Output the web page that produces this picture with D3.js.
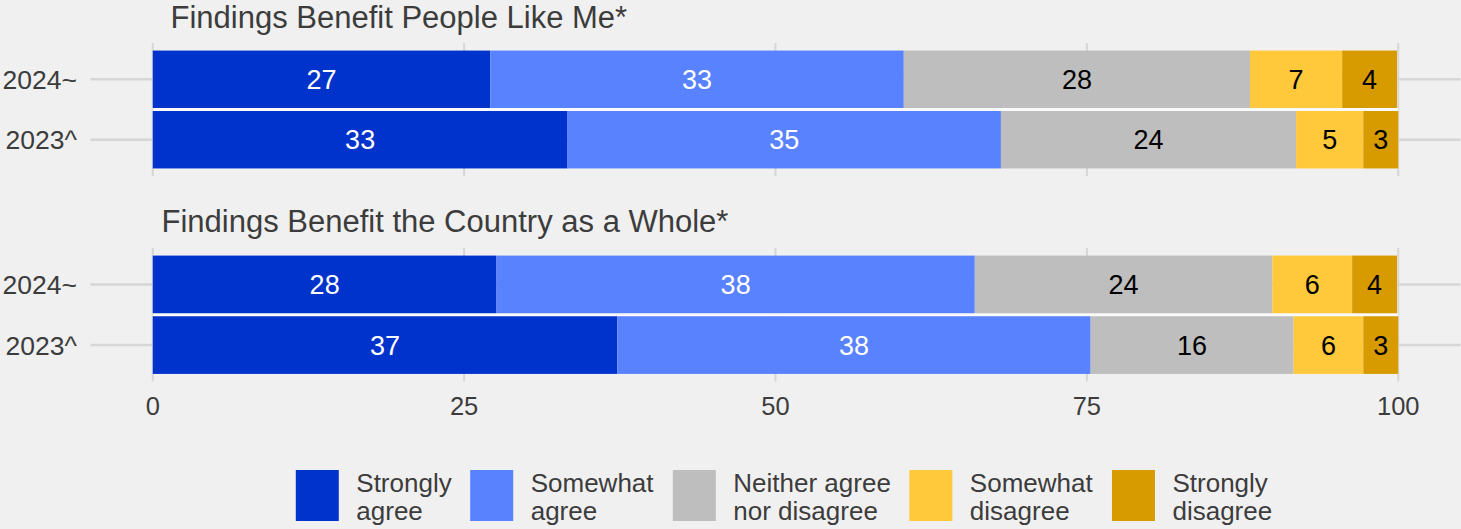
<!DOCTYPE html>
<html>
<head>
<meta charset="utf-8">
<script src="https://cdn.jsdelivr.net/npm/d3@7"></script>
<style>
  html, body { margin: 0; padding: 0; background: #f0f0f0; }
  svg { display: block; }
  text { font-family: "Liberation Sans", Arial, Helvetica, sans-serif; }
</style>
</head>
<body>
<svg id="chart" width="1461" height="529"></svg>
<script>
// ---- data ----
const categories = ["Strongly agree", "Somewhat agree", "Neither agree nor disagree", "Somewhat disagree", "Strongly disagree"];
const legendLines = [["Strongly", "agree"], ["Somewhat", "agree"], ["Neither agree", "nor disagree"], ["Somewhat", "disagree"], ["Strongly", "disagree"]];
const colors = ["#0032cc", "#5882ff", "#bebebe", "#ffc93b", "#d79b00"];
const labelColors = ["#ffffff", "#ffffff", "#000000", "#000000", "#000000"];
const years = ["2024~", "2023^"];
const panelTitles = ["Findings Benefit People Like Me*", "Findings Benefit the Country as a Whole*"];
const peopleLikeMe2024 = [27.1, 33.2, 27.8, 7.4, 4.4];
const peopleLikeMe2023 = [33.3, 34.8, 23.7, 5.4, 2.8];
const country2024 = [27.6, 38.4, 23.9, 6.4, 3.6];
const country2023 = [37.3, 38.0, 16.3, 5.6, 2.8];
const xTicks = [0, 25, 50, 75, 100];

const panels = [
  { title: panelTitles[0], rows: [peopleLikeMe2024, peopleLikeMe2023] },
  { title: panelTitles[1], rows: [country2024, country2023] }
];

// ---- layout ----
const svg = d3.select("#chart");
const W = 1461, H = 529;
svg.append("rect").attr("width", W).attr("height", H).attr("fill", "#f0f0f0");

const panelLeft = 90.5, panelRight = 1460.5;
const panelBoxes = [
  { top: 43, bottom: 176, titleX: 170.5, titleY: 28 },
  { top: 248, bottom: 381.5, titleX: 161.5, titleY: 232 }
];
const textColor = "#3c3c3c";
const gridColor = "#d6d6d6";

const x = d3.scaleLinear().domain([-5, 105]).range([panelLeft, panelRight]);

panels.forEach((p, pi) => {
  const box = panelBoxes[pi];
  const y = d3.scaleBand().domain(years).range([box.top, box.bottom])
    .paddingInner(0.05).paddingOuter(0.125);
  const g = svg.append("g");

  // vertical grid
  g.selectAll("line.vg").data(xTicks).join("line")
    .attr("x1", d => x(d)).attr("x2", d => x(d))
    .attr("y1", box.top).attr("y2", box.bottom)
    .attr("stroke", gridColor).attr("stroke-width", 2);
  // horizontal grid
  g.selectAll("line.hg").data(years).join("line")
    .attr("x1", panelLeft).attr("x2", panelRight)
    .attr("y1", d => y(d) + y.bandwidth() / 2).attr("y2", d => y(d) + y.bandwidth() / 2)
    .attr("stroke", gridColor).attr("stroke-width", 2.5);

  // white separator between the two bars
  g.append("rect")
    .attr("x", x(0)).attr("width", x(100) - x(0))
    .attr("y", y(years[0]) + y.bandwidth())
    .attr("height", y(years[1]) - y(years[0]) - y.bandwidth())
    .attr("fill", "#fafafa");

  // stacked segments
  p.rows.forEach((vals, ri) => {
    const yr = years[ri];
    let cum = 0;
    const segs = vals.map((v, ci) => {
      const s = { v, ci, x0: cum, x1: cum + v };
      cum += v;
      return s;
    });
    const rg = g.append("g");
    rg.selectAll("rect").data(segs).join("rect")
      .attr("x", d => x(d.x0))
      .attr("width", d => x(d.x1) - x(d.x0))
      .attr("y", y(yr))
      .attr("height", y.bandwidth())
      .attr("fill", d => colors[d.ci]);
    rg.selectAll("text").data(segs).join("text")
      .attr("x", d => x((d.x0 + d.x1) / 2))
      .attr("y", y(yr) + y.bandwidth() / 2)
      .attr("dy", "0.36em")
      .attr("text-anchor", "middle")
      .attr("font-size", 27)
      .attr("fill", d => labelColors[d.ci])
      .text(d => Math.round(d.v));
  });

  // y labels
  g.selectAll("text.yl").data(years).join("text")
    .attr("x", 77)
    .attr("y", d => y(d) + y.bandwidth() / 2)
    .attr("dy", "0.36em")
    .attr("text-anchor", "end")
    .attr("font-size", 26.5)
    .attr("fill", textColor)
    .text(d => d);

  // panel title
  svg.append("text")
    .attr("x", box.titleX).attr("y", box.titleY)
    .attr("font-size", 31)
    .attr("fill", textColor)
    .text(p.title);
});

// x axis tick labels
svg.append("g").selectAll("text").data(xTicks).join("text")
  .attr("x", d => x(d)).attr("y", 415)
  .attr("text-anchor", "middle")
  .attr("font-size", 25.5)
  .attr("fill", textColor)
  .text(d => d);

// legend
const lg = svg.append("g");
const swW = 43, swH = 51, swTop = 470, textGap = 17.5, itemGap = 18.5;
const items = lg.selectAll("g").data(categories).join("g");
items.append("rect").attr("width", swW).attr("height", swH).attr("y", swTop)
  .attr("fill", (d, i) => colors[i]);
const txts = items.append("text")
  .attr("x", swW + textGap)
  .attr("font-size", 26)
  .attr("fill", textColor);
txts.each(function (d, i) {
  const t = d3.select(this);
  legendLines[i].forEach((ln, li) => {
    t.append("tspan").attr("x", swW + textGap).attr("y", 492 + li * 27.5).text(ln);
  });
});
const widths = [];
txts.each(function () { widths.push(this.getBBox().width); });
const itemW = widths.map(w => swW + textGap + w);
const total = d3.sum(itemW) + itemGap * (itemW.length - 1);
let startX = 784 - total / 2;
items.attr("transform", (d, i) => {
  const tx = startX;
  startX += itemW[i] + itemGap;
  return `translate(${tx},0)`;
});
</script>
</body>
</html>
